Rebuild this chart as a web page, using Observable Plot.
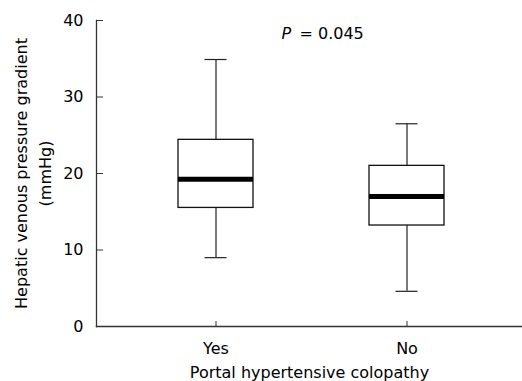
<!DOCTYPE html>
<html>
<head>
<meta charset="utf-8">
<script src="https://cdn.jsdelivr.net/npm/d3@7"></script>
<script src="https://cdn.jsdelivr.net/npm/@observablehq/plot@0.6"></script>
<style>
  html, body { margin: 0; padding: 0; background: #fff; }
</style>
</head>
<body>
<div id="chart"></div>
<script>
const groups = ["Yes", "No"];
const whiskerLow = [9.0, 4.6];
const q1 = [15.5, 13.2];
const median = [19.25, 17.0];
const q3 = [24.4, 21.0];
const whiskerHigh = [34.9, 26.5];
const yTicks = [0, 10, 20, 30, 40];
const yLabel = "Hepatic venous pressure gradient\n(mmHg)";
const xLabel = "Portal hypertensive colopathy";
const pValue = "0.045";

const data = groups.map((g, i) => ({
  group: g, lo: whiskerLow[i], q1: q1[i], med: median[i], q3: q3[i], hi: whiskerHigh[i]
}));

const axisColor = "#333";

const chart = Plot.plot({
  width: 522,
  height: 381,
  marginLeft: 96,
  marginRight: 0,
  marginTop: 20,
  marginBottom: 55,
  style: { fontFamily: "DejaVu Sans", fontSize: "16px", color: "#000", background: "#fff" },
  x: { domain: groups, paddingInner: 0.609, paddingOuter: 0.414, align: 0.51, label: null },
  y: { domain: [0, 40], label: null },
  marks: [
    Plot.ruleX(data, { x: "group", y1: "lo", y2: "hi", stroke: "#222", strokeWidth: 1.2 }),
    Plot.tickY(data, { x: "group", y: "lo", stroke: "#222", strokeWidth: 1.2, insetLeft: 26.5, insetRight: 26.5 }),
    Plot.tickY(data, { x: "group", y: "hi", stroke: "#222", strokeWidth: 1.2, insetLeft: 26.5, insetRight: 26.5 }),
    Plot.barY(data, { x: "group", y1: "q1", y2: "q3", fill: "#fff", stroke: "#111", strokeWidth: 1.3 }),
    Plot.tickY(data, { x: "group", y: "med", stroke: "#000", strokeWidth: 5 }),
    Plot.frame({ anchor: "left", stroke: axisColor, strokeWidth: 1.3 }),
    Plot.frame({ anchor: "bottom", stroke: axisColor, strokeWidth: 1.3 }),
    Plot.axisY({ ticks: yTicks, tickSize: 0, tickPadding: 13, fontSize: 16, label: null }),
    Plot.axisY({ ticks: yTicks, tickSize: -7, tickFormat: () => "", stroke: axisColor, label: null }),
    Plot.axisX({ tickSize: 0, tickPadding: 16, fontSize: 16, label: null }),
    Plot.axisX({ tickSize: -5, tickFormat: () => "", stroke: axisColor, label: null }),
    Plot.text([yLabel], { text: d => d, frameAnchor: "left", dx: -65, rotate: -90, textAnchor: "middle", lineAnchor: "middle", lineHeight: 1.45, fontSize: 16 }),
    Plot.text([xLabel], { text: d => d, frameAnchor: "bottom", dy: 46, textAnchor: "middle", lineAnchor: "middle", fontSize: 16 }),
    Plot.text(["P"], { text: d => d, frameAnchor: "top", dx: -28, dy: 13, textAnchor: "start", fontStyle: "italic", lineAnchor: "middle", fontSize: 16 }),
    Plot.text([pValue], { text: d => "= " + d, frameAnchor: "top", dx: -10, dy: 13, textAnchor: "start", lineAnchor: "middle", fontSize: 16 })
  ]
});

document.getElementById("chart").appendChild(chart);
</script>
</body>
</html>
